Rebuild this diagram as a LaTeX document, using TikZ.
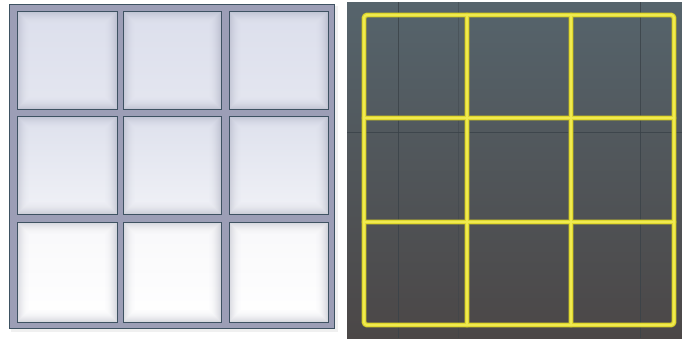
\documentclass[tikz,border=0pt]{standalone}
\definecolor{framec}{HTML}{9C9EB6}
\definecolor{edgec}{HTML}{3E5262}
\definecolor{shadowc}{HTML}{6A6E88}
\definecolor{rtop}{HTML}{56646C}
\definecolor{rbot}{HTML}{4B4747}
\definecolor{gridline}{HTML}{3A4248}
\definecolor{yeledge}{HTML}{9C9A3A}
\definecolor{yelo}{HTML}{E0D82C}
\definecolor{yeli}{HTML}{F0EA50}
\tikzset{
  celledge/.style={draw=edgec,line width=1.0pt},
  darkline/.style={draw=gridline,line width=0.8pt,opacity=0.8},
  yellowedge/.style={draw=yeledge,line width=5.4pt,line cap=round,line join=round,opacity=0.6},
  yellowout/.style={draw=yelo,line width=4.4pt,line cap=round,line join=round},
  yellowin/.style={draw=yeli,line width=2pt,line cap=round,line join=round}
}
\begin{document}
\begin{tikzpicture}[x=1pt,y=-1pt]
\useasboundingbox (0,0) rectangle (682,338);
\fill[white] (0,0) rectangle (346,338);
\fill[black!6] (11,327) rectangle (338,332);
\fill[black!6] (335,6) rectangle (338,332);
% frame
\fill[framec] (9,4) rectangle (335,329);
\draw[celledge] (9.5,4.5) rectangle (334.5,328.5);
% cells
\foreach \ya/\yb/\ct/\cb in {11/109/DCDFEC/E4E6F0, 116/214/DEE1ED/F0F1F6, 222/322/F8F8FA/FFFFFF}{
  \foreach \xa/\xb in {17/117, 123/221, 229/328}{
    \definecolor{ctop}{HTML}{\ct}
    \definecolor{cbot}{HTML}{\cb}
    \shade[top color=ctop,bottom color=cbot] (\xa,\ya) rectangle (\xb,\yb);
    \foreach \k in {0,...,12}{
      \pgfmathsetmacro{\op}{0.26*(1-\k/13)^2}
      \draw[shadowc,opacity=\op,line width=1.05pt] (\xa+\k+0.5,\ya+\k+0.5) rectangle (\xb-\k-0.5,\yb-\k-0.5);
    }
    \draw[celledge] (\xa,\ya) rectangle (\xb,\yb);
  }
}
% right panel
\shade[top color=rtop,bottom color=rbot] (347,2) rectangle (682,338);
\draw[darkline] (347,132) -- (682,132);
\draw[darkline] (398,2) -- (398,338);
\draw[darkline] (640,2) -- (640,338);
\draw[draw=gridline,line width=0.6pt,opacity=0.4] (458,2) -- (458,338);
% yellow grid
\foreach \s in {yellowedge,yellowout,yellowin}{
  \draw[\s,rounded corners=3pt] (364,15) rectangle (674,325);
  \draw[\s] (467,15) -- (467,325);
  \draw[\s] (571,15) -- (571,325);
  \draw[\s] (364,118) -- (674,118);
  \draw[\s] (364,222) -- (674,222);
}
\end{tikzpicture}
\end{document}
